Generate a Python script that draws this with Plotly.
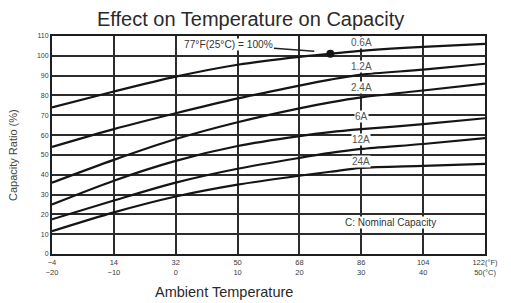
import plotly.graph_objects as go

temps_c = [-20, -10, 0, 10, 20, 25, 30, 40, 50]
cap_06A = [74, 82, 89.5, 95.5, 99.5, 101, 102.5, 104.5, 106]
cap_12A = [54, 63, 71, 78.5, 85, 88, 90.5, 93, 96]
cap_24A = [36, 47.5, 58, 66.5, 73.5, 76.5, 79, 82.5, 86]
cap_6A = [25, 37, 47, 54.5, 59.5, 61.5, 63, 65.5, 68.5]
cap_12Ah = [17.5, 27, 36, 43, 48.5, 51, 53, 55.5, 58.5]
cap_24Ah = [11.5, 21, 29, 35, 39.5, 41.5, 43.5, 44.5, 45.5]

series = [("0.6A", cap_06A, 106.6), ("1.2A", cap_12A, 94.4), ("2.4A", cap_24A, 83.8),
          ("6A", cap_6A, 69.2), ("12A", cap_12Ah, 57.6), ("24A", cap_24Ah, 46.5)]

x_tickvals = [-20, -10, 0, 10, 20, 30, 40, 50]
x_ticktext = ["−4<br>−20", "14<br>−10", "32<br>0", "50<br>10", "68<br>20", "86<br>30",
              "104<br>40", "122(°F)<br>50(°C)"]
y_tickvals = list(range(0, 111, 10))

ref_point = (25, 101)

FONT = "Liberation Sans, Arial, sans-serif"
OFF = 8  # default page body margin
W, H = 511 - OFF, 303 - OFF
ML, MR, MT, MB = 52 - OFF, 26, 36 - OFF, 49
pw, ph = W - ML - MR, H - MT - MB

def px_x(px):
    return (px - 52) / pw

def px_y(py):
    return (254 - py) / ph

fig = go.Figure()
for name, vals, _ in series:
    fig.add_trace(go.Scatter(x=temps_c, y=vals, mode="lines", name=name,
                             line=dict(color="#151515", width=2.2, shape="spline", smoothing=0.8),
                             showlegend=False, hoverinfo="skip"))

fig.add_trace(go.Scatter(x=[ref_point[0]], y=[ref_point[1]], mode="markers",
                         marker=dict(color="#151515", size=8), showlegend=False))

for name, _, ly in series:
    fig.add_annotation(x=30, y=ly, text=name, showarrow=False, bgcolor="white",
                       font=dict(size=10, color="#555"), borderpad=0)

fig.add_annotation(x=22.4, y=102.3, ax=8.6, ay=105.6, axref="x", ayref="y",
                   text="77°F(25°C) = 100%", showarrow=True, arrowhead=0, arrowwidth=1.5,
                   arrowcolor="#222", bgcolor="white", font=dict(size=10.2, color="#333"),
                   borderpad=0)

fig.add_annotation(x=34.8, y=15.7, text="C: Nominal Capacity", showarrow=False,
                   bgcolor="white", font=dict(size=10, color="#333"), borderpad=0)

fig.add_annotation(x=px_x(250), y=px_y(19), xref="paper", yref="paper",
                   text="Effect on Temperature on Capacity", showarrow=False,
                   xanchor="center", yanchor="middle",
                   font=dict(size=20, color="#2a2a2a", family=FONT))
fig.add_annotation(x=px_x(224), y=px_y(292), xref="paper", yref="paper",
                   text="Ambient Temperature", showarrow=False,
                   xanchor="center", yanchor="middle",
                   font=dict(size=14.5, color="#2a2a2a", family=FONT))
fig.add_annotation(x=px_x(13), y=px_y(155), xref="paper", yref="paper",
                   text="Capacity Ratio (%)", showarrow=False, textangle=-90,
                   xanchor="center", yanchor="middle",
                   font=dict(size=11, color="#444", family=FONT))

fig.update_layout(
    width=W, height=H,
    margin=dict(l=ML, r=MR, t=MT, b=MB),
    paper_bgcolor="white", plot_bgcolor="white",
    font=dict(family=FONT, color="#333"),
    xaxis=dict(range=[-20, 50], tickmode="array", tickvals=x_tickvals, ticktext=x_ticktext,
               showgrid=True, gridcolor="#2c2c2c", gridwidth=2, zeroline=False,
               showline=True, linecolor="#1e1e1e", linewidth=2, mirror=True,
               tickfont=dict(size=7.5, color="#3a3a3a"), ticks=""),
    yaxis=dict(range=[0, 110], tickmode="array", tickvals=y_tickvals,
               showgrid=True, gridcolor="#2c2c2c", gridwidth=2, zeroline=False,
               showline=True, linecolor="#1e1e1e", linewidth=2, mirror=True,
               tickfont=dict(size=7, color="#3a3a3a"), ticks=""),
)

fig.write_html("out.html")
